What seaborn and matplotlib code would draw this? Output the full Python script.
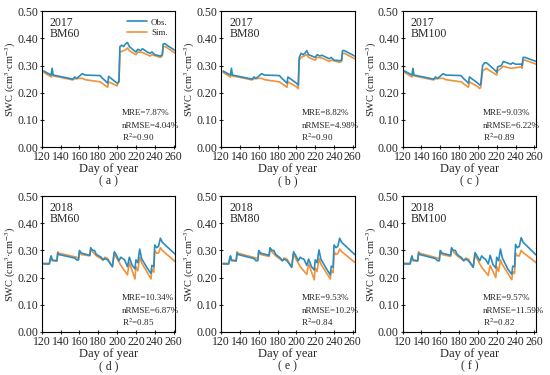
import matplotlib
matplotlib.use("Agg")
from matplotlib import pyplot as plt
import pandas as pd
import seaborn as sns

# ---- data (breakpoints of each curve) ----
obs_a_day = [122, 130, 131, 132, 153, 155, 157, 163, 166, 182, 184, 190, 191, 200, 202, 203, 205, 207, 209, 211, 213, 218, 220, 222, 225, 227, 232, 235, 237, 240, 246, 248, 249, 251, 255, 262]
obs_a_val = [0.280, 0.265, 0.290, 0.265, 0.250, 0.258, 0.252, 0.270, 0.265, 0.263, 0.255, 0.235, 0.260, 0.235, 0.240, 0.370, 0.375, 0.370, 0.380, 0.385, 0.370, 0.355, 0.350, 0.360, 0.355, 0.362, 0.350, 0.345, 0.350, 0.340, 0.335, 0.340, 0.380, 0.380, 0.370, 0.355]
sim_a_day = [122, 130, 131, 132, 153, 155, 163, 166, 182, 190, 191, 200, 202, 203, 207, 209, 211, 213, 220, 222, 227, 235, 237, 246, 248, 249, 251, 262]
sim_a_val = [0.275, 0.258, 0.270, 0.262, 0.247, 0.252, 0.253, 0.248, 0.240, 0.220, 0.240, 0.225, 0.245, 0.350, 0.355, 0.358, 0.365, 0.355, 0.340, 0.350, 0.348, 0.335, 0.340, 0.330, 0.335, 0.370, 0.370, 0.345]

obs_b_day = [122, 130, 131, 132, 153, 155, 157, 163, 166, 182, 184, 190, 191, 200, 202, 203, 205, 207, 209, 211, 213, 220, 222, 225, 227, 235, 237, 240, 246, 248, 249, 251, 262]
obs_b_val = [0.280, 0.265, 0.290, 0.265, 0.250, 0.258, 0.252, 0.270, 0.265, 0.263, 0.255, 0.235, 0.258, 0.235, 0.228, 0.330, 0.345, 0.340, 0.345, 0.355, 0.340, 0.330, 0.340, 0.335, 0.338, 0.325, 0.330, 0.320, 0.318, 0.320, 0.355, 0.355, 0.335]
sim_b_day = [122, 130, 131, 132, 153, 155, 163, 166, 182, 190, 191, 200, 202, 203, 205, 211, 213, 220, 222, 227, 235, 237, 246, 248, 249, 251, 262]
sim_b_val = [0.275, 0.258, 0.270, 0.262, 0.247, 0.252, 0.253, 0.248, 0.240, 0.220, 0.240, 0.222, 0.215, 0.320, 0.330, 0.340, 0.330, 0.320, 0.330, 0.328, 0.315, 0.320, 0.312, 0.315, 0.345, 0.345, 0.325]

obs_c_day = [122, 130, 131, 132, 153, 155, 157, 163, 166, 182, 184, 190, 191, 200, 202, 203, 205, 207, 209, 211, 219, 220, 221, 225, 227, 235, 237, 240, 246, 247, 248, 250, 262]
obs_c_val = [0.280, 0.265, 0.290, 0.265, 0.250, 0.258, 0.252, 0.270, 0.265, 0.263, 0.255, 0.235, 0.258, 0.235, 0.228, 0.230, 0.300, 0.310, 0.310, 0.305, 0.280, 0.275, 0.295, 0.300, 0.315, 0.305, 0.310, 0.305, 0.305, 0.300, 0.330, 0.330, 0.315]
sim_c_day = [122, 130, 131, 132, 153, 155, 163, 166, 182, 190, 191, 200, 202, 203, 205, 209, 211, 220, 221, 227, 235, 246, 247, 248, 250, 262]
sim_c_val = [0.275, 0.258, 0.270, 0.262, 0.247, 0.252, 0.253, 0.248, 0.240, 0.220, 0.240, 0.222, 0.215, 0.220, 0.280, 0.290, 0.285, 0.265, 0.280, 0.297, 0.290, 0.295, 0.290, 0.320, 0.320, 0.305]

obs_d_day = [122, 128, 129, 130, 131, 136, 137, 138, 155, 157, 159, 160, 162, 171, 172, 174, 176, 178, 183, 185, 187, 190, 195, 197, 199, 202, 204, 206, 208, 211, 213, 216, 219, 220, 222, 224, 226, 232, 236, 237, 239, 240, 242, 244, 246, 248, 262]
obs_d_val = [0.250, 0.250, 0.270, 0.280, 0.265, 0.262, 0.290, 0.285, 0.272, 0.265, 0.265, 0.300, 0.290, 0.282, 0.310, 0.300, 0.300, 0.285, 0.275, 0.265, 0.270, 0.265, 0.240, 0.295, 0.285, 0.262, 0.275, 0.270, 0.265, 0.240, 0.275, 0.245, 0.232, 0.265, 0.255, 0.305, 0.270, 0.235, 0.215, 0.245, 0.240, 0.320, 0.310, 0.315, 0.345, 0.330, 0.285]
sim_d_day = [122, 128, 130, 131, 136, 137, 138, 157, 159, 160, 162, 171, 172, 174, 178, 185, 187, 190, 195, 197, 199, 204, 211, 213, 219, 220, 222, 224, 226, 236, 237, 239, 240, 242, 244, 246, 248, 262]
sim_d_val = [0.253, 0.252, 0.275, 0.262, 0.260, 0.295, 0.290, 0.275, 0.270, 0.295, 0.285, 0.280, 0.305, 0.295, 0.280, 0.265, 0.275, 0.270, 0.240, 0.290, 0.275, 0.245, 0.210, 0.255, 0.195, 0.240, 0.225, 0.275, 0.255, 0.195, 0.230, 0.220, 0.300, 0.290, 0.290, 0.310, 0.300, 0.258]

obs_e_val = [0.250, 0.250, 0.270, 0.280, 0.265, 0.262, 0.290, 0.285, 0.270, 0.262, 0.262, 0.300, 0.290, 0.282, 0.310, 0.300, 0.300, 0.285, 0.272, 0.262, 0.268, 0.262, 0.238, 0.295, 0.283, 0.262, 0.275, 0.270, 0.268, 0.245, 0.268, 0.240, 0.228, 0.265, 0.255, 0.302, 0.268, 0.232, 0.210, 0.242, 0.238, 0.320, 0.310, 0.315, 0.345, 0.330, 0.285]
sim_e_val = [0.253, 0.252, 0.275, 0.262, 0.260, 0.295, 0.290, 0.272, 0.268, 0.295, 0.285, 0.278, 0.305, 0.295, 0.280, 0.262, 0.272, 0.268, 0.238, 0.290, 0.272, 0.240, 0.212, 0.250, 0.192, 0.235, 0.222, 0.270, 0.250, 0.195, 0.225, 0.218, 0.295, 0.285, 0.288, 0.305, 0.296, 0.256]

obs_f_val = [0.250, 0.250, 0.270, 0.280, 0.265, 0.262, 0.290, 0.285, 0.270, 0.262, 0.262, 0.300, 0.290, 0.282, 0.310, 0.300, 0.300, 0.285, 0.272, 0.262, 0.268, 0.262, 0.238, 0.292, 0.280, 0.262, 0.280, 0.272, 0.268, 0.250, 0.282, 0.248, 0.235, 0.275, 0.262, 0.305, 0.272, 0.230, 0.212, 0.242, 0.240, 0.322, 0.310, 0.315, 0.347, 0.330, 0.283]
sim_f_val = [0.253, 0.252, 0.275, 0.262, 0.260, 0.295, 0.290, 0.272, 0.268, 0.295, 0.285, 0.278, 0.305, 0.295, 0.280, 0.262, 0.272, 0.268, 0.238, 0.288, 0.270, 0.238, 0.208, 0.245, 0.200, 0.240, 0.222, 0.265, 0.248, 0.192, 0.222, 0.215, 0.290, 0.280, 0.280, 0.300, 0.292, 0.255]

years = ["2017", "2017", "2017", "2018", "2018", "2018"]
depths = ["BM60", "BM80", "BM100", "BM60", "BM80", "BM100"]
mre = ["7.87%", "8.82%", "9.03%", "10.34%", "9.53%", "9.57%"]
nrmse = ["4.04%", "4.98%", "6.22%", "6.87%", "10.2%", "11.59%"]
r2 = ["0.90", "0.90", "0.89", "0.85", "0.84", "0.82"]
captions = ["( a )", "( b )", "( c )", "( d )", "( e )", "( f )"]

panels = [
    (obs_a_day, obs_a_val, sim_a_day, sim_a_val),
    (obs_b_day, obs_b_val, sim_b_day, sim_b_val),
    (obs_c_day, obs_c_val, sim_c_day, sim_c_val),
    (obs_d_day, obs_d_val, sim_d_day, sim_d_val),
    (obs_d_day, obs_e_val, sim_d_day, sim_e_val),
    (obs_d_day, obs_f_val, sim_d_day, sim_f_val),
]

OBS_COLOR = "#2a8cbf"
SIM_COLOR = "#f0923a"

sns.set_style("ticks")
plt.rcParams["font.family"] = ["Liberation Serif", "DejaVu Serif"]
plt.rcParams["mathtext.fontset"] = "stix"

fig = plt.figure(figsize=(5.5, 3.75), dpi=100)
lefts = [0.076, 0.402, 0.732]
bottoms = [0.608, 0.115]
w, h = 0.243, 0.362

for i, (od, ov, sd, sv) in enumerate(panels):
    ax = fig.add_axes([lefts[i % 3], bottoms[i // 3], w, h])
    sim_df = pd.DataFrame({"day": sd, "swc": sv})
    obs_df = pd.DataFrame({"day": od, "swc": ov})
    sns.lineplot(data=obs_df, x="day", y="swc", ax=ax, color=OBS_COLOR,
                 lw=1.2, label="Obs.", zorder=3)
    sns.lineplot(data=sim_df, x="day", y="swc", ax=ax, color=SIM_COLOR,
                 lw=1.2, label="Sim.", zorder=2)
    ax.set_xlim(120, 262)
    ax.set_ylim(0, 0.5)
    ax.set_xticks(range(120, 261, 20))
    ax.set_yticks([0, 0.1, 0.2, 0.3, 0.4, 0.5])
    ax.set_yticklabels(["0.00", "0.10", "0.20", "0.30", "0.40", "0.50"])
    ax.tick_params(labelsize=8.5, length=3, width=0.8, pad=1.2,
                   direction="inout")
    for s in ax.spines.values():
        s.set_linewidth(0.8)
        s.set_color("black")
    ax.set_xlabel("Day of year", fontsize=9, labelpad=0)
    ax.set_ylabel("SWC (cm$^3$·cm$^{-3}$)", fontsize=7.5)
    ax.yaxis.set_label_coords(-0.18, 0.5)
    ax.text(0.5, -0.255, captions[i], transform=ax.transAxes, ha="center",
            va="center", fontsize=8.5)
    ax.text(0.06, 0.912, years[i], transform=ax.transAxes, fontsize=8.5,
            va="center")
    ax.text(0.06, 0.831, depths[i], transform=ax.transAxes, fontsize=8.5,
            va="center")
    ax.text(0.60, 0.25, "MRE=" + mre[i], transform=ax.transAxes,
            fontsize=6.5, va="center")
    ax.text(0.60, 0.155, "nRMSE=" + nrmse[i], transform=ax.transAxes,
            fontsize=6.5, va="center")
    ax.text(0.60, 0.07, "R$^2$=" + r2[i], transform=ax.transAxes,
            fontsize=6.5, va="center")
    if i == 0:
        ax.legend(loc="upper right", frameon=False, fontsize=6.5,
                  handlelength=2.3, handletextpad=0.4, borderaxespad=0,
                  labelspacing=0.25, bbox_to_anchor=(0.97, 0.975))
    else:
        ax.get_legend().remove()

fig.savefig("out.png", dpi=100)
